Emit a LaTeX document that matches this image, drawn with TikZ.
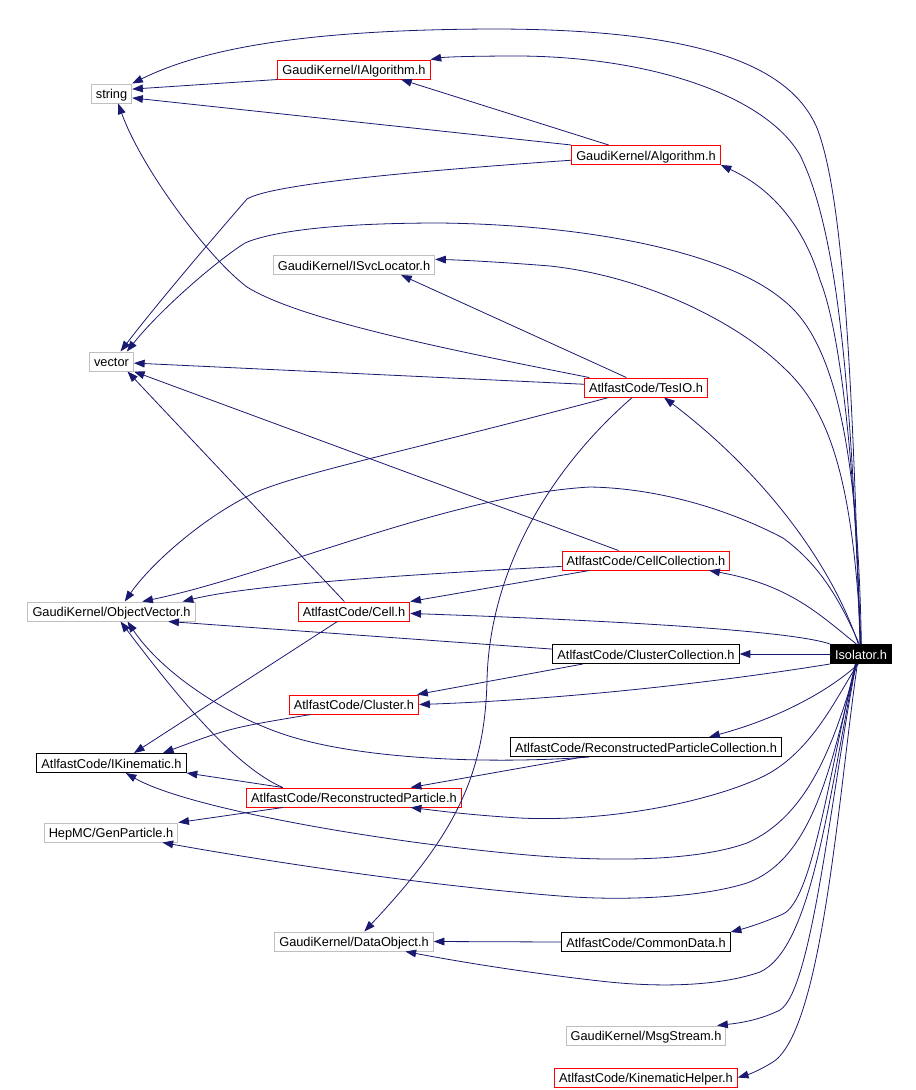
\documentclass[tikz,border=0pt]{standalone}
\usepackage{fontspec}
\setmainfont{Liberation Sans}
\usetikzlibrary{arrows.meta}
\definecolor{edgeblue}{RGB}{25,25,112}
\definecolor{boxgray}{RGB}{191,191,191}

\begin{document}
\begin{tikzpicture}[x=0.75pt,y=-0.75pt,
  hdr/.style={draw,rectangle,inner xsep=3.4pt,inner ysep=0pt,minimum height=14.25pt,
    text height=8.6pt,text depth=0.9pt,line width=0.75pt,font=\fontsize{9.6}{11}\selectfont},
  grayhdr/.style={hdr,draw=boxgray},
  redhdr/.style={hdr,draw=red},
  blackhdr/.style={hdr,draw=black},
  dep/.style={draw=edgeblue,line width=0.6pt,-{Triangle[length=8pt,width=5.8pt]}}]
\useasboundingbox (0,0) rectangle (916,1090);
% left column
\node[grayhdr] (string) at (111.5,93.5) {string};
\node[grayhdr] (vector) at (111.5,361.5) {vector};
\node[grayhdr] (objvec) at (111.5,611.5) {GaudiKernel/ObjectVector.h};
\node[blackhdr] (ikin) at (111.5,763) {AtlfastCode/IKinematic.h};
\node[grayhdr] (genp) at (111,832.5) {HepMC/GenParticle.h};
% middle column
\node[redhdr] (ialg) at (354,69.5) {GaudiKernel/IAlgorithm.h};
\node[grayhdr] (isvc) at (354,265) {GaudiKernel/ISvcLocator.h};
\node[redhdr] (cell) at (354,611.5) {AtlfastCode/Cell.h};
\node[redhdr] (cluster) at (354,704.5) {AtlfastCode/Cluster.h};
\node[redhdr] (recop) at (354,797.5) {AtlfastCode/ReconstructedParticle.h};
\node[grayhdr] (dataobj) at (354,941.5) {GaudiKernel/DataObject.h};
% right column
\node[redhdr] (alg) at (646,155) {GaudiKernel/Algorithm.h};
\node[redhdr] (tesio) at (646,387.5) {AtlfastCode/TesIO.h};
\node[redhdr] (cellcoll) at (646,560.5) {AtlfastCode/CellCollection.h};
\node[blackhdr] (clustcoll) at (646,654) {AtlfastCode/ClusterCollection.h};
\node[blackhdr] (rpc) at (646,747) {AtlfastCode/ReconstructedParticleCollection.h};
\node[blackhdr] (common) at (646,942) {AtlfastCode/CommonData.h};
\node[grayhdr] (msg) at (646,1035.5) {GaudiKernel/MsgStream.h};
\node[redhdr] (kinh) at (646,1077.5) {AtlfastCode/KinematicHelper.h};
\node[blackhdr,fill=black,text=white] (iso) at (861,654) {Isolator.h};

% Isolator.h includes
\draw[dep] (iso.96) .. controls (853,400) and (845,200) .. (817,128) .. controls (790,65) and (700,30) .. (500,29) .. controls (300,29) and (200,50) .. (string.north east);
\draw[dep] (iso.94) .. controls (852,420) and (842,240) .. (800,155) .. controls (765,95) and (650,57) .. (520,56) .. controls (470,56) and (445,57) .. (ialg.north east);
\draw[dep] (iso.92) .. controls (855,460) and (840,330) .. (820,280) .. controls (805,230) and (775,190) .. (alg.south east);
\draw[dep] (iso.88) .. controls (858,450) and (835,340) .. (783,300) .. controls (730,255) and (600,225) .. (440,223) .. controls (330,223) and (270,232) .. (245,243) .. controls (215,262) and (160,310) .. (vector.33);
\draw[dep] (iso.90) .. controls (853,480) and (830,410) .. (783,367) .. controls (740,325) and (650,277) .. (550,266) .. controls (500,262) and (460,260) .. (isvc.4);
\draw[dep] (iso.105) .. controls (830,560) and (760,470) .. (tesio.-29);
\draw[dep] (iso.100) .. controls (840,600) and (820,565) .. (783,538) .. controls (720,505) and (650,488) .. (590,487) .. controls (450,495) and (270,575) .. (objvec.18);
\draw[dep] (iso.115) .. controls (820,615) and (790,585) .. (cellcoll.-9);
\draw[dep] (iso.north west) .. controls (790,630) and (600,620) .. (cell.-2);
\draw[dep] (iso.west) -- (clustcoll.east);
\draw[dep] (iso.south west) .. controls (700,685) and (550,700) .. (cluster.east);
\draw[dep] (iso.-105) .. controls (830,690) and (780,718) .. (rpc.9);
\draw[dep] (iso.-108) .. controls (835,700) and (810,755) .. (760,778) .. controls (700,805) and (600,822) .. (520,818) .. controls (470,815) and (440,811) .. (recop.-10);
\draw[dep] (iso.-112) .. controls (835,740) and (810,815) .. (747,843) .. controls (700,860) and (620,862) .. (540,856) .. controls (400,845) and (190,810) .. (ikin.-35);
\draw[dep] (iso.-115) .. controls (832,760) and (815,858) .. (747,883) .. controls (700,898) and (620,901) .. (560,896) .. controls (420,885) and (260,860) .. (genp.-11);
\draw[dep] (iso.-118) .. controls (828,800) and (812,948) .. (760,972) .. controls (720,986) and (660,988) .. (600,981) .. controls (520,972) and (450,960) .. (dataobj.-11);
\draw[dep] (iso.-120) .. controls (828,780) and (812,900) .. (783,914) .. controls (770,920) and (750,927) .. (common.north east);
\draw[dep] (iso.-116) .. controls (830,800) and (812,990) .. (780,1010) .. controls (760,1020) and (740,1023) .. (msg.8);
\draw[dep] (iso.-110) .. controls (838,800) and (822,1030) .. (773,1062) .. controls (760,1070) and (750,1074) .. (kinh.east);

% the other includes
\draw[dep] (ialg.south west) -- (string.12);
\draw[dep] (alg.165) -- (ialg.-12);
\draw[dep] (alg.north west) -- (string.-12);
\draw[dep] (alg.-176) .. controls (400,172) and (270,185) .. (247,199) .. controls (220,230) and (160,300) .. (vector.48);
\draw[dep] (tesio.153) -- (isvc.-12);
\draw[dep] (tesio.170) .. controls (450,350) and (300,320) .. (247,287) .. controls (205,255) and (140,165) .. (string.-56);
\draw[dep] (tesio.177) -- (vector.-4);
\draw[dep] (tesio.-165) .. controls (400,453) and (290,475) .. (250,495) .. controls (200,520) and (150,565) .. (objvec.37);
\draw[dep] (tesio.-144) .. controls (560,460) and (490,560) .. (487,680) .. controls (485,780) and (450,840) .. (dataobj.44);
\draw[dep] (cellcoll.160) -- (vector.south east);
\draw[dep] (cellcoll.-176) .. controls (400,575) and (250,585) .. (objvec.8);
\draw[dep] (cellcoll.-170) -- (cell.north east);
\draw[dep] (cell.134) -- (vector.-32);
\draw[dep] (cell.-149) -- (ikin.24);
\draw[dep] (clustcoll.177) -- (objvec.-10);
\draw[dep] (clustcoll.-171) -- (cluster.9);
\draw[dep] (cluster.-167) .. controls (230,728) .. (ikin.11);
\draw[dep] (rpc.-170) .. controls (480,765) and (350,758) .. (280,733) .. controls (220,712) and (160,670) .. (objvec.-32);
\draw[dep] (rpc.-171) -- (recop.10);
\draw[dep] (recop.172) .. controls (230,765) and (165,680) .. (objvec.-48);
\draw[dep] (recop.172) -- (ikin.south east);
\draw[dep] (recop.-172) -- (genp.north east);
\draw[dep] (common.west) -- (dataobj.east);
\end{tikzpicture}
\end{document}
